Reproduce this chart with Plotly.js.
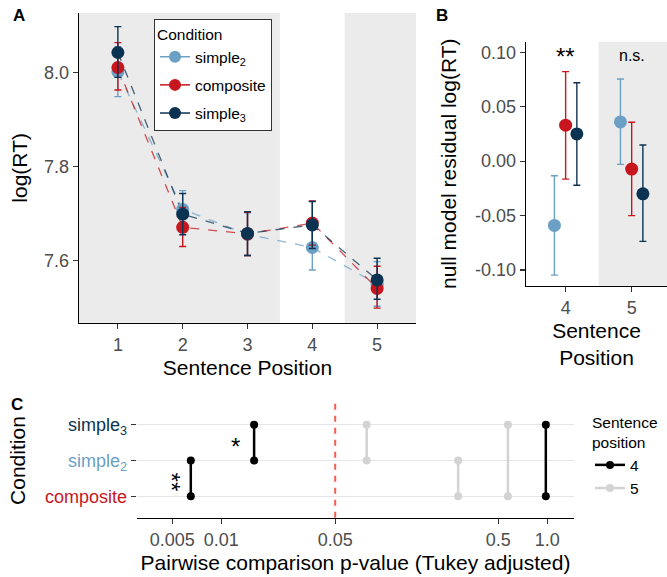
<!DOCTYPE html>
<html><head><meta charset="utf-8">
<script src="https://cdn.plot.ly/plotly-3.0.1.min.js"></script>
<style>html,body{margin:0;padding:0;background:#fff}#chart{width:667px;height:577px}</style>
</head><body><div id="chart"></div>
<script>
// ---------- Panel A data ----------
const conditions = ['simple2', 'composite', 'simple3'];
const conditionLabels = ['simple<sub>2</sub>', 'composite', 'simple<sub>3</sub>'];
const conditionColors = ['#6b9fc4', '#c8161e', '#0b3351'];
const positionsA = [1, 2, 3, 4, 5];
const meanSimple2A = [8.002, 7.709, 7.656, 7.628, 7.550];
const lowSimple2A = [7.949, 7.662, 7.611, 7.580, 7.503];
const highSimple2A = [8.055, 7.749, 7.702, 7.676, 7.598];
const meanCompositeA = [8.011, 7.671, 7.657, 7.680, 7.541];
const lowCompositeA = [7.963, 7.630, 7.611, 7.633, 7.499];
const highCompositeA = [8.064, 7.713, 7.703, 7.727, 7.588];
const meanSimple3A = [8.043, 7.699, 7.658, 7.676, 7.559];
const lowSimple3A = [7.990, 7.655, 7.611, 7.626, 7.518];
const highSimple3A = [8.098, 7.743, 7.704, 7.726, 7.605];

// ---------- Panel B data ----------
const positionsB = [4, 5];
const residSimple2 = [-0.059, 0.036];
const residLowSimple2 = [-0.1047, -0.003];
const residHighSimple2 = [-0.0134, 0.0755];
const residComposite = [0.033, -0.0073];
const residLowComposite = [-0.0165, -0.050];
const residHighComposite = [0.0822, 0.0357];
const residSimple3 = [0.025, -0.030];
const residLowSimple3 = [-0.0222, -0.0737];
const residHighSimple3 = [0.072, 0.0148];
const sigB = ['**', 'n.s.'];

// ---------- Panel C data ----------
const conditionsC = ['composite', 'simple2', 'simple3'];
const conditionLabelsC = ['composite', 'simple<sub>2</sub>', 'simple<sub>3</sub>'];
const conditionColorsC = ['#c8161e', '#6b9fc4', '#0b3351'];
const pairPosition = ['4', '4', '4', '5', '5', '5'];
const pairFrom = ['composite', 'simple2', 'composite', 'simple2', 'composite', 'composite'];
const pairTo = ['simple2', 'simple3', 'simple3', 'simple3', 'simple2', 'simple3'];
const pairP = [0.0065, 0.0159, 0.98, 0.078, 0.284, 0.574];
const positionLevels = ['4', '5'];
const positionColors = ['#000000', '#d3d3d3'];
const pTickVals = [0.005, 0.01, 0.05, 0.5, 1];
const pTickText = ['0.005', '0.01', '0.05', '0.5', '1.0'];

// ---------- layout helpers ----------
const W = 667, H = 577;
const fx = v => v / W;
const fy = v => 1 - v / H;
const FONT = 'Liberation Sans, Arial, Helvetica, sans-serif';
const TICKC = '#4d4d4d';

const meansA = [meanSimple2A, meanCompositeA, meanSimple3A];
const lowsA = [lowSimple2A, lowCompositeA, lowSimple3A];
const highsA = [highSimple2A, highCompositeA, highSimple3A];
const meansB = [residSimple2, residComposite, residSimple3];
const lowsB = [residLowSimple2, residLowComposite, residLowSimple3];
const highsB = [residHighSimple2, residHighComposite, residHighSimple3];
const dodge = [-0.17, 0, 0.17];

const traces = [];
// A: dashed connecting lines
conditions.forEach((c, i) => {
  traces.push({x: positionsA, y: meansA[i], type: 'scatter', mode: 'lines', xaxis: 'x', yaxis: 'y',
    line: {color: conditionColors[i], width: 1.3, dash: 'dash'}, opacity: 0.75, showlegend: false, hoverinfo: 'skip'});
});
// A: points with error bars
conditions.forEach((c, i) => {
  traces.push({x: positionsA, y: meansA[i], type: 'scatter', mode: 'markers', xaxis: 'x', yaxis: 'y',
    marker: {color: conditionColors[i], size: 13},
    error_y: {type: 'data', symmetric: false,
      array: highsA[i].map((h, k) => h - meansA[i][k]),
      arrayminus: meansA[i].map((m, k) => m - lowsA[i][k]),
      color: conditionColors[i], thickness: 1.4, width: 3.5},
    showlegend: false});
});
// A: legend keys
conditions.forEach((c, i) => {
  traces.push({x: [null], y: [null], type: 'scatter', mode: 'lines+markers', xaxis: 'x', yaxis: 'y',
    name: conditionLabels[i], legend: 'legend', legendgroup: c,
    line: {color: conditionColors[i], width: 1.5}, marker: {color: conditionColors[i], size: 12}});
});
// B: points with error bars (dodged)
conditions.forEach((c, i) => {
  traces.push({x: positionsB.map(p => p + dodge[i]), y: meansB[i], type: 'scatter', mode: 'markers',
    xaxis: 'x2', yaxis: 'y2', marker: {color: conditionColors[i], size: 13},
    error_y: {type: 'data', symmetric: false,
      array: highsB[i].map((h, k) => h - meansB[i][k]),
      arrayminus: meansB[i].map((m, k) => m - lowsB[i][k]),
      color: conditionColors[i], thickness: 1.4, width: 3.5},
    showlegend: false});
});
// C: pairwise comparison segments, one trace per sentence position (gray drawn first)
positionLevels.slice().reverse().forEach(lv => {
  const li = positionLevels.indexOf(lv);
  const xs = [], ys = [];
  pairP.forEach((p, k) => {
    if (pairPosition[k] === lv) { xs.push(p, p, null); ys.push(pairFrom[k], pairTo[k], null); }
  });
  traces.push({x: xs, y: ys, type: 'scatter', mode: 'lines+markers', xaxis: 'x3', yaxis: 'y3',
    name: lv, legend: 'legend2', legendrank: li + 1, connectgaps: false,
    line: {color: positionColors[li], width: 2.5}, marker: {color: positionColors[li], size: 8}});
});

const shapes = [
  {type: 'rect', xref: 'x', yref: 'y domain', x0: 0.4, x1: 3.5, y0: 0, y1: 1, fillcolor: '#ebebeb', line: {width: 0}, layer: 'below'},
  {type: 'rect', xref: 'x', yref: 'y domain', x0: 4.5, x1: 5.6, y0: 0, y1: 1, fillcolor: '#ebebeb', line: {width: 0}, layer: 'below'},
  {type: 'rect', xref: 'x2', yref: 'y2 domain', x0: 4.5, x1: 5.535, y0: 0, y1: 1, fillcolor: '#ebebeb', line: {width: 0}, layer: 'below'},
  {type: 'line', xref: 'x3', yref: 'y3 domain', x0: 0.05, x1: 0.05, y0: 0, y1: 1, line: {color: '#fb5b4f', width: 2, dash: '6px,6px'}, layer: 'above'}
];

const annotations = [
  {text: '<b>A</b>', xref: 'paper', yref: 'paper', x: fx(11), y: fy(16), xanchor: 'left', yanchor: 'middle', showarrow: false, font: {size: 17, color: '#000'}},
  {text: '<b>B</b>', xref: 'paper', yref: 'paper', x: fx(434), y: fy(16), xanchor: 'left', yanchor: 'middle', showarrow: false, font: {size: 17, color: '#000'}},
  {text: '<b>C</b>', xref: 'paper', yref: 'paper', x: fx(9), y: fy(404), xanchor: 'left', yanchor: 'middle', showarrow: false, font: {size: 17, color: '#000'}}
];
positionsB.forEach((p, i) => {
  const big = sigB[i] !== 'n.s.';
  annotations.push({text: sigB[i], xref: 'x2', yref: 'y2', x: p, y: 0.1, showarrow: false,
    yanchor: 'middle', yshift: big ? -4 : -3, font: {size: big ? 24 : 16, color: '#000'}});
});
pairP.forEach((p, k) => {
  const s = p < 0.01 ? '**' : (p < 0.05 ? '*' : '');
  if (!s) return;
  const mid = (conditionsC.indexOf(pairFrom[k]) + conditionsC.indexOf(pairTo[k])) / 2;
  annotations.push({text: s, xref: 'x3', yref: 'y3', x: Math.log10(p), y: mid, showarrow: false,
    xshift: -19, yshift: -4, textangle: s.length > 1 ? 90 : 0, font: {size: 24, color: '#000'}});
});

const axisCommon = {showline: true, linecolor: '#000', linewidth: 1.3, ticks: 'outside', ticklen: 5,
  tickcolor: '#333', tickwidth: 1.2, tickfont: {size: 18, color: TICKC, family: FONT}, showgrid: false,
  zeroline: false, automargin: false, mirror: false};

const layout = {
  width: W, height: H, margin: {l: 0, r: 0, t: 0, b: 0}, paper_bgcolor: '#fff', plot_bgcolor: 'rgba(0,0,0,0)',
  font: {family: FONT, color: '#000'},
  showlegend: true,
  xaxis: Object.assign({}, axisCommon, {domain: [fx(79), fx(416)], range: [0.4, 5.6], tickvals: positionsA,
    anchor: 'y', title: {text: 'Sentence Position', font: {size: 21, color: '#000'}, standoff: 6}}),
  yaxis: Object.assign({}, axisCommon, {domain: [fy(322.7), fy(13)], range: [7.468, 8.127], tickvals: [7.6, 7.8, 8.0],
    ticktext: ['7.6', '7.8', '8.0'], anchor: 'x', title: {text: 'log(RT)', font: {size: 21, color: '#000'}, standoff: 10}}),
  xaxis2: Object.assign({}, axisCommon, {domain: [fx(526), 1], range: [3.4, 5.535], tickvals: positionsB,
    anchor: 'y2', title: {text: 'Sentence<br>Position', font: {size: 21, color: '#000'}, standoff: 6}}),
  yaxis2: Object.assign({}, axisCommon, {domain: [fy(285.7), fy(41.7)], range: [-0.1144, 0.1097],
    tickvals: [-0.1, -0.05, 0, 0.05, 0.1], ticktext: ['-0.10', '-0.05', '0.00', '0.05', '0.10'], anchor: 'x2',
    title: {text: 'null model residual log(RT)', font: {size: 21, color: '#000'}, standoff: 12}}),
  xaxis3: Object.assign({}, axisCommon, {type: 'log', domain: [fx(136.7), fx(574.3)], range: [-2.519, 0.166],
    tickvals: pTickVals, ticktext: pTickText, anchor: 'y3',
    title: {text: 'Pairwise comparison p-value (Tukey adjusted)', font: {size: 21, color: '#000'}, standoff: 6}}),
  yaxis3: Object.assign({}, axisCommon, {type: 'category', categoryorder: 'array', categoryarray: conditionsC,
    domain: [fy(517.7), fy(403.4)], range: [-0.6, 2.6], showline: false, showgrid: true, gridcolor: '#e6e6e6', gridwidth: 1.3,
    tickvals: conditionsC, ticktext: conditionLabelsC.map((t, i) => '<span style="color:' + conditionColorsC[i] + '">' + t + '</span>'),
    anchor: 'x3', title: {text: 'Condition', font: {size: 21, color: '#000'}, standoff: 13}}),
  legend: {x: fx(154), y: fy(19), xanchor: 'left', yanchor: 'top', bgcolor: '#fff', bordercolor: '#333', borderwidth: 1,
    font: {size: 15.5, color: '#000'}, title: {text: 'Condition', font: {size: 15.5, color: '#000'}}, tracegroupgap: 5, itemclick: false},
  legend2: {x: fx(590), y: fy(408), xanchor: 'left', yanchor: 'top', bgcolor: 'rgba(0,0,0,0)', borderwidth: 0,
    traceorder: 'normal', font: {size: 15.5, color: '#000'}, title: {text: 'Sentence<br>position', font: {size: 15.5, color: '#000'}}, itemclick: false},
  shapes: shapes,
  annotations: annotations
};

Plotly.newPlot('chart', traces, layout, {displayModeBar: false, staticPlot: true});
</script>
</body></html>
